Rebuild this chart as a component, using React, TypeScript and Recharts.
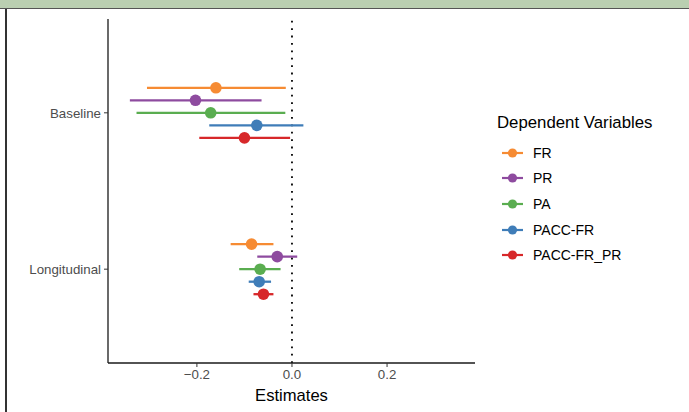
import React from 'react';
import { ScatterChart, Scatter, XAxis, YAxis, ErrorBar, ReferenceLine } from 'recharts';

const categories = ['Baseline', 'Longitudinal'];
const seriesNames = ['FR', 'PR', 'PA', 'PACC-FR', 'PACC-FR_PR'];
const seriesColors = ['#F68B33', '#8E4B9F', '#5AAD50', '#3F7DB8', '#D7282A'];

// estimates per series: [Baseline, Longitudinal]
const estFR = [-0.160, -0.085];
const estPR = [-0.203, -0.031];
const estPA = [-0.171, -0.067];
const estPACCFR = [-0.074, -0.069];
const estPACCFRPR = [-0.100, -0.060];

const lowFR = [-0.305, -0.129];
const lowPR = [-0.341, -0.073];
const lowPA = [-0.327, -0.111];
const lowPACCFR = [-0.174, -0.091];
const lowPACCFRPR = [-0.195, -0.081];

const highFR = [-0.013, -0.039];
const highPR = [-0.064, 0.011];
const highPA = [-0.014, -0.024];
const highPACCFR = [0.024, -0.044];
const highPACCFRPR = [-0.004, -0.039];

const xTicks = [-0.2, 0, 0.2];

const estimates = [estFR, estPR, estPA, estPACCFR, estPACCFRPR];
const lows = [lowFR, lowPR, lowPA, lowPACCFR, lowPACCFRPR];
const highs = [highFR, highPR, highPA, highPACCFR, highPACCFRPR];

const dodge = 0.08;

const seriesData = seriesNames.map((name, i) =>
  categories.map((cat, j) => ({
    cat,
    x: estimates[i][j],
    y: j + 1 + (i - 2) * dodge,
    err: [estimates[i][j] - lows[i][j], highs[i][j] - estimates[i][j]],
  }))
);

const FONT = '"Liberation Sans", Arial, Helvetica, sans-serif';

const fmt = (v: number) => {
  const s = Math.abs(v).toFixed(1);
  return v < 0 ? '\u2212' + s : s;
};

const LegendBox = () => (
  <div style={{ position: 'absolute', left: 497, top: 113, fontFamily: FONT, color: '#000' }}>
    <div style={{ fontSize: 16.8, lineHeight: '20px', marginBottom: 7, whiteSpace: 'nowrap' }}>Dependent Variables</div>
    {seriesNames.map((n, i) => (
      <div key={n} style={{ display: 'flex', alignItems: 'center', height: 25.6 }}>
        <svg width={28} height={14} style={{ marginLeft: 4 }}>
          <line x1={1} x2={22} y1={7} y2={7} stroke={seriesColors[i]} strokeWidth={2.2} />
          <circle cx={11.5} cy={7} r={4.6} fill={seriesColors[i]} />
        </svg>
        <span style={{ fontSize: 14, marginLeft: 4 }}>{n}</span>
      </div>
    ))}
  </div>
);

export default function App() {
  return (
    <div style={{ position: 'absolute', top: 0, left: 0, width: 689, height: 412, background: '#fff', overflow: 'hidden' }}>
      <div style={{ position: 'absolute', top: 0, left: 0, width: 689, height: 8, background: '#BACFB1', borderBottom: '1.5px solid #555' }} />
      <div style={{ position: 'absolute', top: 9, left: 5, width: 1.5, height: 403, background: '#333' }} />
      <div style={{ position: 'absolute', top: 0, left: 0 }}>
        <ScatterChart width={689} height={412} margin={{ top: 19, right: 214, bottom: 0, left: 0 }}>
          <XAxis
            type="number"
            dataKey="x"
            domain={[-0.387, 0.385]}
            ticks={xTicks}
            tickFormatter={fmt}
            allowDataOverflow
            height={49}
            axisLine={{ stroke: '#1a1a1a', strokeWidth: 1.3 }}
            tickLine={{ stroke: '#333' }}
            tickSize={4}
            tickMargin={3}
            tick={{ fill: '#4D4D4D', fontSize: 13.3, fontFamily: FONT }}
            label={{ value: 'Estimates', position: 'insideBottom', offset: 11, fill: '#000', fontSize: 16.6, fontFamily: FONT }}
          />
          <YAxis
            type="number"
            dataKey="y"
            domain={[0.4, 2.6]}
            reversed
            ticks={[1, 2]}
            tickFormatter={(v: number) => categories[Math.round(v) - 1]}
            allowDataOverflow
            width={108}
            axisLine={{ stroke: '#1a1a1a', strokeWidth: 1.3 }}
            tickLine={{ stroke: '#333' }}
            tickSize={4}
            tickMargin={3}
            tick={{ fill: '#4D4D4D', fontSize: 13.3, fontFamily: FONT }}
          />
          <ReferenceLine x={0} stroke="#000" strokeWidth={1.8} strokeDasharray="1.8 5.6" />
          {seriesNames.map((n, i) => (
            <Scatter
              key={n}
              name={n}
              data={seriesData[i]}
              fill={seriesColors[i]}
              isAnimationActive={false}
              shape={(p: any) => <circle cx={p.cx} cy={p.cy} r={5.8} fill={seriesColors[i]} />}
            >
              <ErrorBar dataKey="err" direction="x" width={0} stroke={seriesColors[i]} strokeWidth={2.3} isAnimationActive={false} />
            </Scatter>
          ))}
        </ScatterChart>
      </div>
      <LegendBox />
    </div>
  );
}
